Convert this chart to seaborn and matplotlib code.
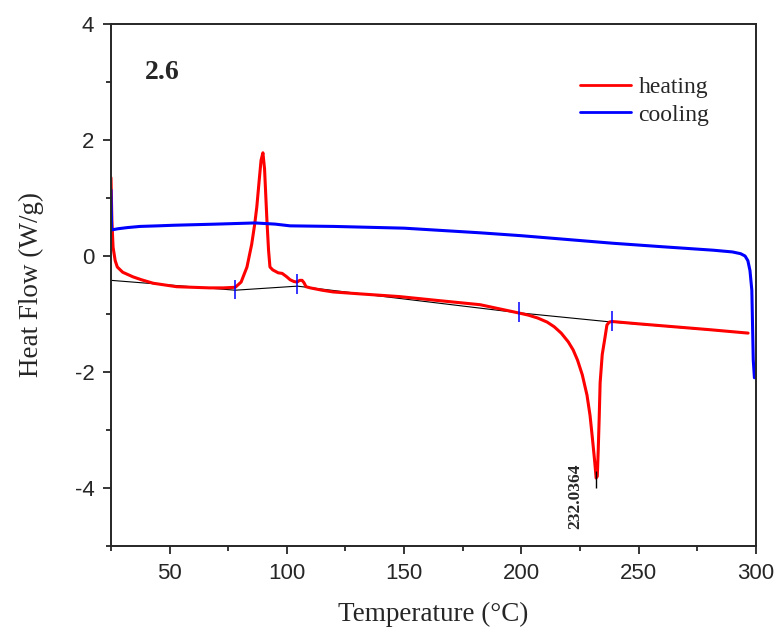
import matplotlib
matplotlib.use("Agg")
import matplotlib.pyplot as plt
import seaborn as sns
import pandas as pd

# heating trace (W/g vs degC)
heat_T = [25.0, 25.4, 25.9, 26.8, 27.7, 30.0, 34.4, 38.0, 43.0, 48.0, 53.0, 60.0, 67.0, 73.0, 78.0,
          80.5, 83.0, 85.0, 86.3, 87.2, 88.2, 89.0, 89.8, 90.5, 91.5, 92.2, 92.8, 94.0, 96.3, 98.0,
          100.0, 101.4, 103.0, 104.3, 105.5, 106.5, 107.3, 108.2, 110.0, 115.0, 119.7, 130.0, 148.0,
          165.0, 182.4, 198.6, 203.0, 207.0, 211.0, 214.0, 217.0, 220.0, 222.1, 224.0, 226.0, 228.0,
          229.3, 230.2, 231.3, 231.9, 232.4, 232.8, 233.2, 233.6, 234.5, 235.7, 236.5, 237.5, 238.7,
          250.0, 265.0, 280.0, 296.7]
heat_W = [1.35, 0.60, 0.15, -0.08, -0.19, -0.28, -0.36, -0.41, -0.47, -0.50, -0.53, -0.54, -0.55, -0.55, -0.54,
          -0.45, -0.19, 0.20, 0.55, 0.85, 1.30, 1.65, 1.78, 1.50, 0.62, 0.10, -0.19, -0.24, -0.29, -0.30,
          -0.36, -0.41, -0.44, -0.45, -0.42, -0.42, -0.46, -0.53, -0.55, -0.59, -0.62, -0.65, -0.70,
          -0.77, -0.84, -0.98, -1.02, -1.07, -1.14, -1.22, -1.33, -1.48, -1.62, -1.80, -2.05, -2.40,
          -2.75, -3.10, -3.55, -3.83, -3.80, -3.34, -2.80, -2.19, -1.70, -1.40, -1.19, -1.14, -1.13,
          -1.17, -1.22, -1.27, -1.33]

# cooling trace
cool_T = [25.0, 25.3, 28.0, 32.0, 37.4, 45.0, 51.5, 70.0, 86.4, 95.0, 101.4, 120.0, 150.0, 182.4, 200.0,
          239.0, 260.0, 281.8, 290.0, 293.5, 295.4, 296.6, 297.5, 298.3, 298.9, 299.4]
cool_W = [1.14, 0.45, 0.47, 0.49, 0.51, 0.52, 0.53, 0.55, 0.57, 0.55, 0.52, 0.51, 0.48, 0.40, 0.35,
          0.22, 0.16, 0.10, 0.07, 0.04, 0.00, -0.08, -0.25, -0.59, -1.79, -2.10]

# integration baseline and its limit markers
base_T = [25.0, 78.0, 104.5, 199.0, 238.7, 296.7]
base_W = [-0.42, -0.59, -0.52, -0.98, -1.14, -1.33]
limit_T = [78.0, 104.5, 199.0, 238.7]
limit_W = [-0.58, -0.48, -0.97, -1.12]

peak_T = 232.0
peak_label = "232.0364"

heat = pd.DataFrame({"T": heat_T, "W": heat_W})
cool = pd.DataFrame({"T": cool_T, "W": cool_W})
base = pd.DataFrame({"T": base_T, "W": base_W})

sns.set_style("ticks")
plt.rcParams["font.family"] = ["Liberation Sans", "DejaVu Sans"]
plt.rcParams["axes.unicode_minus"] = False

fig = plt.figure(figsize=(7.76, 6.34), dpi=100)
ax = fig.add_axes([0.143, 0.139, 0.831, 0.823])

sns.lineplot(data=base, x="T", y="W", color="black", linewidth=0.8, ax=ax)
sns.lineplot(data=heat, x="T", y="W", color="red", linewidth=2.2, label="heating", ax=ax)
sns.lineplot(data=cool, x="T", y="W", color="blue", linewidth=2.2, label="cooling", ax=ax)

# limit markers
ax.vlines(limit_T, [w - 0.17 for w in limit_W], [w + 0.17 for w in limit_W], color="blue", linewidth=1.1)
# peak marker + label
ax.vlines(peak_T, -4.0, -3.7, color="black", linewidth=1.0)
ax.text(peak_T - 9.0, -4.15, peak_label, rotation=90, ha="center", va="center",
        family="Liberation Serif", fontweight="bold", fontsize=12.5)

ax.text(39.5, 3.17, "2.6", family="Liberation Serif", fontweight="bold", fontsize=20,
        ha="left", va="center")

ax.set_xlim(25, 300)
ax.set_ylim(-5, 4)
ax.set_xticks([50, 100, 150, 200, 250, 300])
ax.set_xticks([25, 75, 125, 175, 225, 275], minor=True)
ax.set_yticks([-4, -2, 0, 2, 4])
ax.set_yticks([-5, -3, -1, 1, 3], minor=True)
ax.tick_params(axis="both", which="major", direction="out", length=6, width=1.3, labelsize=16, pad=6)
ax.tick_params(axis="both", which="minor", direction="out", length=3.5, width=1.3)
for s in ax.spines.values():
    s.set_linewidth(1.4)

ax.set_xlabel("Temperature (°C)", family="Liberation Serif", fontsize=19.5, labelpad=13.5)
ax.set_ylabel("Heat Flow (W/g)", family="Liberation Serif", fontsize=19.5, labelpad=22)

leg = ax.legend(loc="upper right", bbox_to_anchor=(0.961, 0.94), frameon=False,
                prop={"family": "Liberation Serif", "size": 17}, handlelength=2.2,
                handletextpad=0.3, labelspacing=0.25)
for ln in leg.get_lines():
    ln.set_linewidth(2.0)

fig.savefig("out.png", dpi=100)
